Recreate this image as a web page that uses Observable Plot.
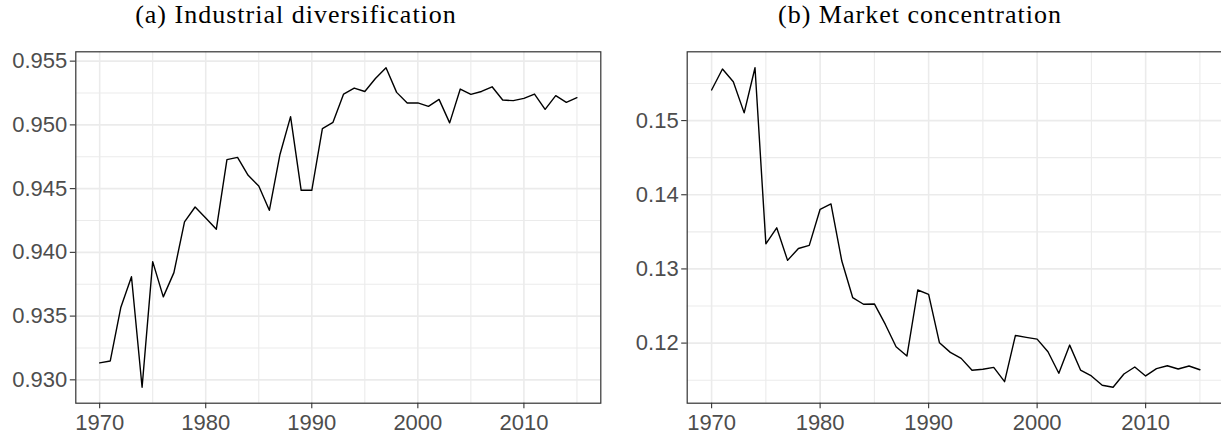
<!DOCTYPE html>
<html>
<head>
<meta charset="utf-8">
<script src="https://cdn.jsdelivr.net/npm/d3@7"></script>
<script src="https://cdn.jsdelivr.net/npm/@observablehq/plot@0.6"></script>
<style>
  html, body { margin: 0; padding: 0; background: #fff; }
  #root { position: relative; width: 1221px; height: 436px; overflow: hidden; background: #fff; }
  .panel { position: absolute; top: 0; }
  .title { position: absolute; top: 0; font-family: "Liberation Serif", "Times New Roman", serif; font-size: 26px; line-height: 30px; letter-spacing: 1px; color: #000; white-space: nowrap; transform: translateX(-50%); }
  .panel svg { position: absolute; top: 40px; left: 0; }
</style>
</head>
<body>
<div id="root"></div>
<script>
const years = [1970,1971,1972,1973,1974,1975,1976,1977,1978,1979,1980,1981,1982,1983,1984,1985,1986,1987,1988,1989,1990,1991,1992,1993,1994,1995,1996,1997,1998,1999,2000,2001,2002,2003,2004,2005,2006,2007,2008,2009,2010,2011,2012,2013,2014,2015];

const diversification = [0.93133,0.93148,0.93570,0.93809,0.92942,0.93927,0.93651,0.93841,0.94239,0.94356,0.94270,0.94182,0.94727,0.94745,0.94604,0.94520,0.94330,0.94768,0.95065,0.94487,0.94487,0.94971,0.95020,0.95242,0.95289,0.95262,0.95364,0.95448,0.95255,0.95172,0.95172,0.95145,0.95200,0.95016,0.95281,0.95239,0.95262,0.95299,0.95195,0.95190,0.95208,0.95242,0.95122,0.95229,0.95177,0.95213];

const concentration = [0.15413,0.15695,0.15524,0.15104,0.15712,0.13339,0.13554,0.13115,0.13276,0.13317,0.13804,0.13877,0.13106,0.12614,0.12524,0.12528,0.12255,0.11950,0.11825,0.12716,0.12658,0.12004,0.11875,0.11794,0.11633,0.11647,0.11673,0.11480,0.12103,0.12077,0.12054,0.11883,0.11593,0.11973,0.11637,0.11557,0.11432,0.11405,0.11583,0.11678,0.11557,0.11655,0.11695,0.11651,0.11691,0.11641];

const titles = ["(a) Industrial diversification", "(b) Market concentration"];
const xTicks = [1970, 1980, 1990, 2000, 2010];
const xMinor = [1975, 1985, 1995, 2005, 2015];
const yTicksA = [0.930, 0.935, 0.940, 0.945, 0.950, 0.955];
const yMinorA = [0.9325, 0.9375, 0.9425, 0.9475, 0.9525];
const yTicksB = [0.12, 0.13, 0.14, 0.15];
const yMinorB = [0.115, 0.125, 0.135, 0.145, 0.155];

function pad(ext, f = 0.05) { const r = ext[1] - ext[0]; return [ext[0] - r * f, ext[1] + r * f]; }

function panel({values, yTicks, yMinor, yFmt, left, width, mLeft, mRight, titleCenter, title}) {
  const rows = years.map((y, i) => ({year: y, v: values[i]}));
  const div = document.createElement("div");
  div.className = "panel";
  div.style.left = left + "px";
  div.style.width = width + "px";
  div.style.height = "436px";
  const t = document.createElement("div");
  t.className = "title";
  t.style.left = (titleCenter - left) + "px";
  t.textContent = title;
  div.appendChild(t);
  const axisStyle = {fontSize: 22, fill: "#4D4D4D", stroke: "#333333", strokeWidth: 1.1, tickSize: 5.5};
  const svg = Plot.plot({
    width, height: 396,
    marginLeft: mLeft, marginRight: mRight, marginTop: 11.3, marginBottom: 33.3,
    style: {fontFamily: "'Liberation Sans', Arial, sans-serif", background: "#fff", overflow: "visible"},
    x: {domain: pad(d3.extent(years))},
    y: {domain: pad(d3.extent(values))},
    marks: [
      Plot.gridX(xMinor, {stroke: "#EBEBEB", strokeOpacity: 1, strokeWidth: 1.1}),
      Plot.gridY(yMinor, {stroke: "#EBEBEB", strokeOpacity: 1, strokeWidth: 1.1}),
      Plot.gridX(xTicks, {stroke: "#EBEBEB", strokeOpacity: 1, strokeWidth: 1.6}),
      Plot.gridY(yTicks, {stroke: "#EBEBEB", strokeOpacity: 1, strokeWidth: 1.6}),
      Plot.line(rows, {x: "year", y: "v", stroke: "#000", strokeWidth: 1.4}),
      Plot.frame({stroke: "#333333", strokeWidth: 1.2}),
      Plot.axisX(xTicks, {...axisStyle, tickPadding: 6, tickFormat: d => String(d), label: null}),
      Plot.axisY(yTicks, {...axisStyle, tickPadding: 3, tickFormat: d3.format(yFmt), label: null})
    ]
  });
  div.appendChild(svg);
  return div;
}

const root = document.getElementById("root");
root.appendChild(panel({values: diversification, yTicks: yTicksA, yMinor: yMinorA, yFmt: ".3f",
  left: 0, width: 610, mLeft: 75.3, mRight: 9.7, titleCenter: 296, title: titles[0]}));
root.appendChild(panel({values: concentration, yTicks: yTicksB, yMinor: yMinorB, yFmt: ".2f",
  left: 610, width: 624, mLeft: 76.7, mRight: 10.2, titleCenter: 920, title: titles[1]}));
</script>
</body>
</html>
